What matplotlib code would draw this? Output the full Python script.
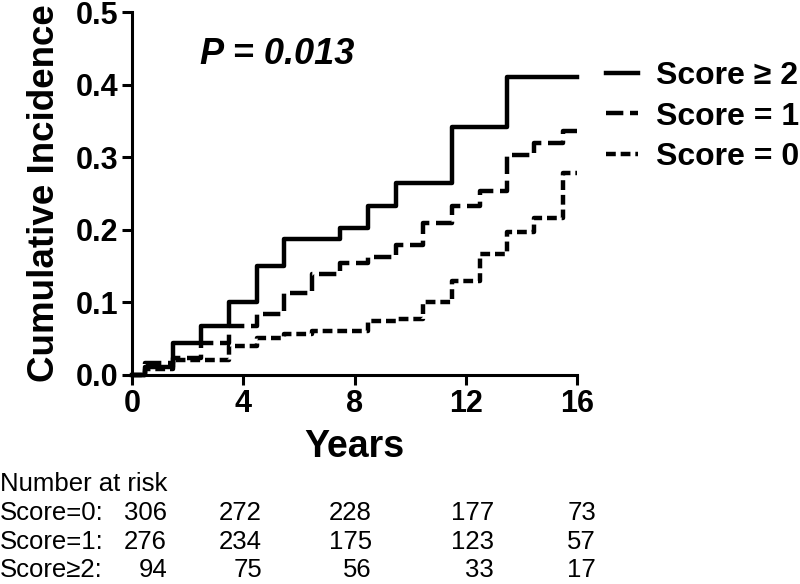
import matplotlib
matplotlib.use("Agg")
import matplotlib.pyplot as plt

# cumulative incidence step curves (years, incidence)
years_ge2 = [0, 0.47, 1.48, 2.48, 3.48, 4.48, 5.48, 7.48, 8.48, 9.5, 11.5, 13.48, 16]
inc_ge2 = [0, 0.011, 0.044, 0.067, 0.101, 0.150, 0.188, 0.202, 0.233, 0.265, 0.341, 0.410, 0.410]

years_1 = [0, 0.47, 1.48, 2.48, 3.48, 4.48, 5.48, 6.48, 7.48, 8.48, 9.5, 10.48,
           11.5, 12.5, 13.48, 14.47, 15.48, 16]
inc_1 = [0, 0.017, 0.023, 0.044, 0.067, 0.084, 0.113, 0.139, 0.154, 0.163, 0.179, 0.210,
         0.233, 0.254, 0.303, 0.319, 0.336, 0.336]

years_0 = [0, 0.47, 1.48, 3.48, 4.48, 5.48, 6.48, 8.48, 9.5, 10.48, 11.5, 12.5,
           13.48, 14.47, 15.48, 16]
inc_0 = [0, 0.008, 0.021, 0.040, 0.051, 0.057, 0.061, 0.074, 0.077, 0.100, 0.130, 0.166,
         0.197, 0.216, 0.278, 0.278]

x_ticks = [0, 4, 8, 12, 16]
y_ticks = [0.0, 0.1, 0.2, 0.3, 0.4, 0.5]

# number at risk table
risk_groups = ["Score=0:", "Score=1:", "Score\u22652:"]
risk_0 = [306, 272, 228, 177, 73]
risk_1 = [276, 234, 175, 123, 57]
risk_ge2 = [94, 75, 56, 33, 17]

plt.rcParams['font.family'] = ['Liberation Sans', 'DejaVu Sans']

W, H = 800, 584
fig = plt.figure(figsize=(W / 100, H / 100), dpi=100)
ax = fig.add_axes([132 / W, 1 - 375 / H, 445 / W, 363 / H])

lw = 3.2
ax.step(years_ge2, inc_ge2, where='post', color='black', lw=lw,
        label='Score \u2265 2', clip_on=False)
ax.step(years_1, inc_1, where='post', color='black', lw=lw,
        linestyle=(0, (3.9, 1.5)), label='Score = 1', clip_on=False)
ax.step(years_0, inc_0, where='post', color='black', lw=lw,
        linestyle=(0, (2.2, 1.1)), label='Score = 0', clip_on=False)

ax.set_xlim(0, 16)
ax.set_ylim(0, 0.5)
ax.set_xticks(x_ticks)
ax.set_yticks(y_ticks)
ax.set_yticklabels([f"{v:.1f}" for v in y_ticks])
for s in ['top', 'right']:
    ax.spines[s].set_visible(False)
for s in ['left', 'bottom']:
    ax.spines[s].set_linewidth(2.2)
ax.tick_params(width=2.2, length=7, labelsize=22, pad=3)
for lab in ax.get_xticklabels() + ax.get_yticklabels():
    lab.set_fontweight('bold')

ax.set_xlabel("Years", fontsize=27, fontweight='bold', labelpad=7)
ax.set_ylabel("Cumulative Incidence", fontsize=26.5, fontweight='bold', labelpad=10)

ax.text(2.45, 0.442, "P = 0.013", fontsize=26, fontweight='bold', style='italic',
        va='center', ha='left')

fig.legend(loc='upper left', bbox_to_anchor=(606 / W, 1 - 61 / H),
           frameon=False, prop={'weight': 'bold', 'size': 23},
           handlelength=1.0, handletextpad=0.55, labelspacing=0.33,
           borderaxespad=0, borderpad=0)

# risk table below the axis
fs = 18.5
fig.text(0, 1 - 484 / H, "Number at risk", fontsize=fs, va='center', ha='left')
col_right = [167, 262, 372, 494, 596]
row_y = [513, 542, 570]
for name, counts, yy in zip(risk_groups, [risk_0, risk_1, risk_ge2], row_y):
    fig.text(0, 1 - yy / H, name, fontsize=fs, va='center', ha='left')
    for n, xr in zip(counts, col_right):
        fig.text(xr / W, 1 - yy / H, str(n), fontsize=fs, va='center', ha='right')

fig.savefig("out.png", dpi=100)
